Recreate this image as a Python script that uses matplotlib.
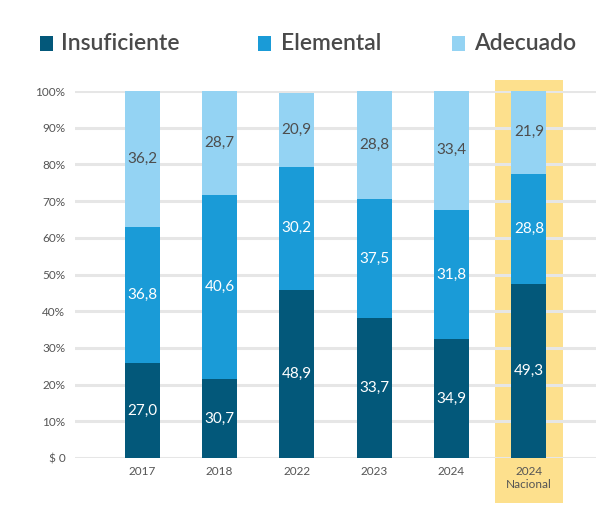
import matplotlib

matplotlib.use("Agg")
import matplotlib.pyplot as plt
from matplotlib.patches import Rectangle

plt.rcParams["font.family"] = ["Lato", "DejaVu Sans"]

categories = ["2017", "2018", "2022", "2023", "2024", "2024\nNacional"]
series_names = ["Insuficiente", "Elemental", "Adecuado"]

# segment heights as drawn in the picture (%)
insuficiente = [25.8, 21.4, 45.8, 38.2, 32.3, 47.3]
elemental = [37.1, 50.3, 33.6, 32.3, 35.3, 30.1]
adecuado = [37.1, 28.3, 20.1, 29.5, 32.7, 22.9]

# printed labels
insuficiente_lbl = ["27,0", "30,7", "48,9", "33,7", "34,9", "49,3"]
elemental_lbl = ["36,8", "40,6", "30,2", "37,5", "31,8", "28,8"]
adecuado_lbl = ["36,2", "28,7", "20,9", "28,8", "33,4", "21,9"]

y_ticks = [0, 10, 20, 30, 40, 50, 60, 70, 80, 90, 100]
y_tick_labels = ["$ 0", "10%", "20%", "30%", "40%", "50%", "60%", "70%", "80%", "90%", "100%"]

colors = ["#03587A", "#1A9BD7", "#94D3F3"]
text_colors = ["white", "white", "#4D4D4D"]
highlight = "#FDE08D"

W, H = 615, 512
fig = plt.figure(figsize=(W / 100, H / 100), dpi=100)
ax = fig.add_axes([75 / W, 1 - 458 / H, (596 - 75) / W, (458 - 91) / H])

x = list(range(len(categories)))
bw = 0.45

# highlight box behind the national bar
ax.add_patch(Rectangle((x[-1] - 0.44, -12.3), 0.88, 115.3, color=highlight,
                       zorder=0, clip_on=False, lw=0))

for yt in y_ticks:
    ax.axhline(yt, color="#E6E6E6", lw=2.2, zorder=1)

bottom = [0] * len(x)
for vals, lbls, c, tc in zip([insuficiente, elemental, adecuado],
                             [insuficiente_lbl, elemental_lbl, adecuado_lbl],
                             colors, text_colors):
    ax.bar(x, vals, bw, bottom=bottom, color=c, zorder=2, lw=0)
    for xi, b, v, lb in zip(x, bottom, vals, lbls):
        ax.text(xi, b + v / 2, lb, ha="center", va="center", color=tc,
                fontsize=11, fontweight="normal", zorder=3)
    bottom = [b + v for b, v in zip(bottom, vals)]

ax.set_xlim(-0.868, 5.868)
ax.set_ylim(0, 100)
ax.set_yticks(y_ticks)
ax.set_yticklabels(y_tick_labels)
ax.set_xticks(x)
ax.set_xticklabels(categories, linespacing=1.2)
ax.tick_params(axis="both", length=0, labelsize=8.5, colors="#555555")
ax.tick_params(axis="y", pad=7)
ax.tick_params(axis="x", pad=6)
for s in ax.spines.values():
    s.set_visible(False)

# legend
leg = [(40, 61), (258, 281), (452, 474)]
for (sx, tx), name, c in zip(leg, series_names, colors):
    fig.patches.append(Rectangle((sx / W, 1 - 51 / H), 13 / W, 15 / H,
                                 transform=fig.transFigure, color=c, lw=0))
    fig.text(tx / W, 1 - 44 / H, name, ha="left", va="center",
             fontsize=16.5, color="#4A4A4A", fontweight="semibold")

fig.savefig("out.png", dpi=100)
